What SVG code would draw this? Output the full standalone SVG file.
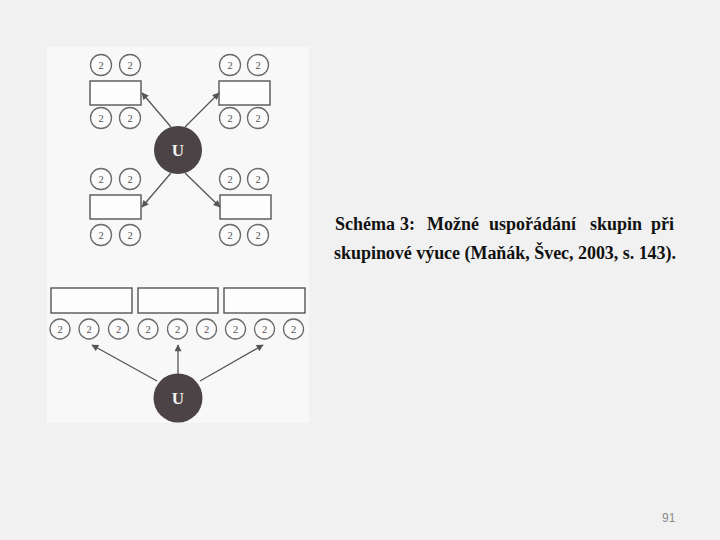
<svg xmlns="http://www.w3.org/2000/svg" width="720" height="540" viewBox="0 0 720 540">
<style>
.seat{fill:#fbfbfb;stroke:#6a6a6a;stroke-width:1.3}
.st{font-family:"Liberation Serif","DejaVu Serif",serif;font-size:10.5px;fill:#555;text-anchor:middle}
.desk{fill:#fdfdfd;stroke:#555;stroke-width:1.4}
.teacher{fill:#4b4346}
.ut{font-family:"Liberation Serif","DejaVu Serif",serif;font-weight:bold;font-size:17px;fill:#f2f2f2;text-anchor:middle}
.arrow{stroke:#555;stroke-width:1.3;fill:none;marker-end:url(#ah)}
.cap{font-family:"Liberation Serif","Times New Roman",serif;font-weight:bold;font-size:18px;fill:#111}
</style>
<defs>
<marker id="ah" viewBox="0 0 10 10" refX="9" refY="5" markerWidth="8" markerHeight="7" markerUnits="userSpaceOnUse" orient="auto">
<path d="M0,0 L10,5 L0,10 z" fill="#555"/>
</marker>
</defs>
<rect width="720" height="540" fill="#f1f1f1"/>
<rect x="47" y="47" width="262" height="376" fill="#f8f8f8"/>

<g id="group-tl">
<circle class="seat" cx="101" cy="65" r="10.5"/><text class="st" x="101" y="69">2</text>
<circle class="seat" cx="130" cy="65" r="10.5"/><text class="st" x="130" y="69">2</text>
<rect class="desk" x="90" y="81" width="51" height="24"/>
<circle class="seat" cx="101" cy="118" r="10.5"/><text class="st" x="101" y="122">2</text>
<circle class="seat" cx="130" cy="118" r="10.5"/><text class="st" x="130" y="122">2</text>
</g>
<g id="group-tr">
<circle class="seat" cx="230" cy="65" r="10.5"/><text class="st" x="230" y="69">2</text>
<circle class="seat" cx="258" cy="65" r="10.5"/><text class="st" x="258" y="69">2</text>
<rect class="desk" x="219" y="81" width="51" height="24"/>
<circle class="seat" cx="230" cy="118" r="10.5"/><text class="st" x="230" y="122">2</text>
<circle class="seat" cx="258" cy="118" r="10.5"/><text class="st" x="258" y="122">2</text>
</g>
<g id="group-bl">
<circle class="seat" cx="101" cy="179" r="10.5"/><text class="st" x="101" y="183">2</text>
<circle class="seat" cx="130" cy="179" r="10.5"/><text class="st" x="130" y="183">2</text>
<rect class="desk" x="90" y="195" width="51" height="24"/>
<circle class="seat" cx="101" cy="235" r="10.5"/><text class="st" x="101" y="239">2</text>
<circle class="seat" cx="130" cy="235" r="10.5"/><text class="st" x="130" y="239">2</text>
</g>
<g id="group-br">
<circle class="seat" cx="230" cy="179" r="10.5"/><text class="st" x="230" y="183">2</text>
<circle class="seat" cx="258" cy="179" r="10.5"/><text class="st" x="258" y="183">2</text>
<rect class="desk" x="220" y="195" width="51" height="24"/>
<circle class="seat" cx="230" cy="235" r="10.5"/><text class="st" x="230" y="239">2</text>
<circle class="seat" cx="258" cy="235" r="10.5"/><text class="st" x="258" y="239">2</text>
</g>
<g id="teacher-top">
<circle class="teacher" cx="178" cy="150" r="24"/>
<text class="ut" x="178" y="156">U</text>
</g>

<g id="row-bottom">
<rect class="desk" x="51" y="288" width="81" height="25"/>
<rect class="desk" x="138" y="288" width="80" height="25"/>
<rect class="desk" x="224" y="288" width="81" height="25"/>
<circle class="seat" cx="60" cy="329" r="10"/><text class="st" x="60" y="333">2</text>
<circle class="seat" cx="89" cy="329" r="10"/><text class="st" x="89" y="333">2</text>
<circle class="seat" cx="118.5" cy="329" r="10"/><text class="st" x="118.5" y="333">2</text>
<circle class="seat" cx="148" cy="329" r="10"/><text class="st" x="148" y="333">2</text>
<circle class="seat" cx="177.5" cy="329" r="10"/><text class="st" x="177.5" y="333">2</text>
<circle class="seat" cx="206.5" cy="329" r="10"/><text class="st" x="206.5" y="333">2</text>
<circle class="seat" cx="235.5" cy="329" r="10"/><text class="st" x="235.5" y="333">2</text>
<circle class="seat" cx="264.5" cy="329" r="10"/><text class="st" x="264.5" y="333">2</text>
<circle class="seat" cx="293.5" cy="329" r="10"/><text class="st" x="293.5" y="333">2</text>
</g>
<g id="teacher-bottom">
<circle class="teacher" cx="178" cy="398" r="24.5"/>
<text class="ut" x="178" y="404">U</text>
</g>

<g id="connectors">
<line class="arrow" x1="171" y1="127" x2="142" y2="93"/>
<line class="arrow" x1="185" y1="127" x2="219" y2="93"/>
<line class="arrow" x1="171" y1="173" x2="142" y2="207"/>
<line class="arrow" x1="185" y1="173" x2="220" y2="207"/>
<line class="arrow" x1="157" y1="381" x2="92" y2="345"/>
<line class="arrow" x1="178" y1="374" x2="178" y2="345"/>
<line class="arrow" x1="200" y1="381" x2="263" y2="345"/>
</g>

<g id="caption">
<text class="cap" x="335" y="230">Schéma</text>
<text class="cap" x="400" y="230">3:</text>
<text class="cap" x="427" y="230">Možné</text>
<text class="cap" x="489" y="230">uspořádání</text>
<text class="cap" x="590" y="230">skupin</text>
<text class="cap" x="674" y="230" text-anchor="end">při</text>
<text class="cap" x="334" y="259" font-size="17.5" textLength="342" lengthAdjust="spacing">skupinové výuce (Maňák, Švec, 2003, s. 143).</text>
</g>
<text x="662" y="522" font-family="'Liberation Sans',Arial,sans-serif" font-size="12" fill="#8a8a8a">91</text>
</svg>
